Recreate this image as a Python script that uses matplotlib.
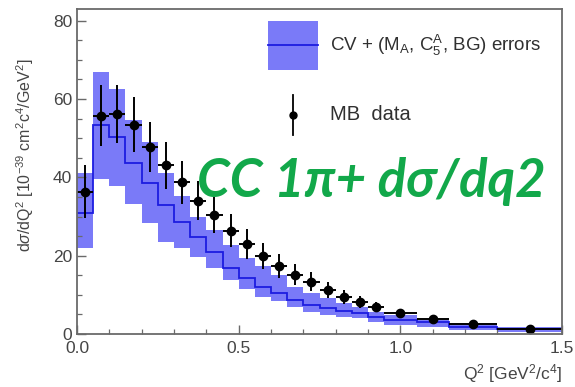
import numpy as np
import matplotlib
matplotlib.use("Agg")
import matplotlib.pyplot as plt
from matplotlib.patches import Rectangle
from matplotlib.lines import Line2D

plt.rcParams['font.family'] = ['Liberation Sans', 'DejaVu Sans']
plt.rcParams['mathtext.fontset'] = 'custom'
plt.rcParams['mathtext.rm'] = 'Liberation Sans'
plt.rcParams['mathtext.it'] = 'Liberation Sans:italic'

# ---- data ----
bin_edges = [0.0, 0.05, 0.10, 0.15, 0.20, 0.25, 0.30, 0.35, 0.40, 0.45, 0.50,
             0.55, 0.60, 0.65, 0.70, 0.75, 0.80, 0.85, 0.90, 0.95, 1.05, 1.15,
             1.30, 1.50]
mc_central = [31.0, 53.4, 50.2, 43.6, 38.5, 33.0, 28.5, 24.8, 21.0, 16.8, 14.2,
              12.1, 10.4, 8.7, 7.4, 6.6, 5.9, 5.4, 4.4, 3.6, 3.0, 1.9, 1.2]
mc_upper = [41.0, 66.8, 62.5, 54.6, 49.1, 41.2, 35.2, 30.0, 26.6, 22.7, 19.3,
            17.4, 15.1, 12.1, 10.4, 9.1, 7.8, 7.0, 5.7, 4.9, 3.7, 2.6, 1.7]
mc_lower = [22.0, 39.7, 37.8, 33.1, 28.4, 23.4, 22.0, 19.7, 16.8, 13.8, 11.6,
            9.5, 8.5, 7.0, 5.7, 4.9, 4.4, 4.0, 3.1, 2.3, 1.9, 1.0, 0.6]
data_x = [0.025, 0.075, 0.125, 0.175, 0.225, 0.275, 0.325, 0.375, 0.425, 0.475,
          0.525, 0.575, 0.625, 0.675, 0.725, 0.775, 0.825, 0.875, 0.925, 1.0,
          1.1, 1.225, 1.4]
data_y = [36.3, 55.7, 56.2, 53.4, 47.7, 43.1, 38.8, 34.0, 30.4, 26.4, 23.0,
          19.9, 17.4, 15.1, 13.4, 11.2, 9.4, 8.1, 6.8, 5.3, 3.8, 2.55, 1.2]
data_err = [6.8, 7.8, 7.5, 7.0, 6.4, 6.0, 5.5, 5.0, 4.5, 4.2, 3.8, 3.4, 3.0,
            2.7, 2.4, 2.0, 1.8, 1.5, 1.3, 1.0, 0.7, 0.5, 0.3]

x_ticks = [0.0, 0.5, 1.0, 1.5]
x_tick_labels = ['0.0', '0.5', '1.0', '1.5']
y_ticks = [0, 20, 40, 60, 80]

band_color = '#7a7af8'
line_color = '#1c1ce0'
frame_color = '#6a6a6a'
text_color = '#454545'
green = '#12a84a'

fig = plt.figure(figsize=(5.75, 3.87), dpi=100)
ax = fig.add_axes([77/575, 1-334/387, (562-77)/575, (334-9)/387])

edges = np.array(bin_edges)
up = np.array(mc_upper)
lo = np.array(mc_lower)
cen = np.array(mc_central)
ax.stairs(up, edges, baseline=lo, fill=True, color=band_color, lw=0)
ax.stairs(cen, edges, baseline=None, color=line_color, lw=1.3)

dx = np.array(data_x)
left = dx - edges[:-1]
right = edges[1:] - dx
ax.errorbar(dx, data_y, yerr=data_err, xerr=[left, right], fmt='o',
            color='black', ms=6, elinewidth=1.4, capsize=0)

ax.set_xlim(0, 1.5)
ax.set_ylim(0, 83)
ax.set_xticks(x_ticks)
ax.set_xticklabels(x_tick_labels)
ax.set_yticks(y_ticks)
ax.set_xticks(np.arange(0, 1.51, 0.1), minor=True)
ax.set_yticks(np.arange(0, 83, 5), minor=True)
ax.tick_params(axis='both', which='major', direction='in', length=6.5,
               width=1.0, color=frame_color, labelsize=12.5, labelcolor=text_color,
               top=False, right=False)
ax.tick_params(axis='both', which='minor', direction='in', length=3.6,
               width=0.9, color=frame_color, top=False, right=False)
ax.tick_params(axis='x', pad=5)
for s in ax.spines.values():
    s.set_color(frame_color)
    s.set_linewidth(1.3)

ax.set_xlabel(r'Q$^{2}$ [GeV$^{2}$/c$^{4}$]', fontsize=12.5, color=text_color,
              ha='right', x=1.0)
ax.xaxis.set_label_coords(1.0, -0.085)
ax.set_ylabel(r'd$\sigma$/dQ$^{2}$ [10$^{-39}$ cm$^{2}$c$^{4}$/GeV$^{2}$]',
              fontsize=11.5, color=text_color, ha='center')
ax.yaxis.set_label_coords(-0.085, 0.55)

# legend
tr = ax.transAxes
ax.add_patch(Rectangle((0.394, 0.812), 0.103, 0.151, transform=tr,
                       facecolor=band_color, edgecolor='none'))
ax.add_line(Line2D([0.394, 0.497], [0.888, 0.888], transform=tr,
                   color=line_color, lw=1.3))
ax.text(0.522, 0.888, r'CV + (M$_{\rm A}$, C$_{\rm 5}^{\rm A}$, BG) errors',
        transform=tr, fontsize=13.5, color='#303030', va='center', ha='left')
ax.add_line(Line2D([0.445, 0.445], [0.612, 0.735], transform=tr,
                   color='black', lw=1.3))
ax.add_line(Line2D([0.445], [0.674], transform=tr, marker='o', ms=5,
                   color='black', lw=0))
ax.text(0.522, 0.674, 'MB  data', transform=tr, fontsize=14.5,
        color='#303030', va='center', ha='left')

ax.text(0.247, 0.47, 'CC 1π+ dσ/dq2', transform=tr, fontsize=38,
        fontweight='bold', fontstyle='italic', color=green,
        family=['Lato', 'DejaVu Sans'], va='center', ha='left')

fig.savefig('out.png', dpi=100)
